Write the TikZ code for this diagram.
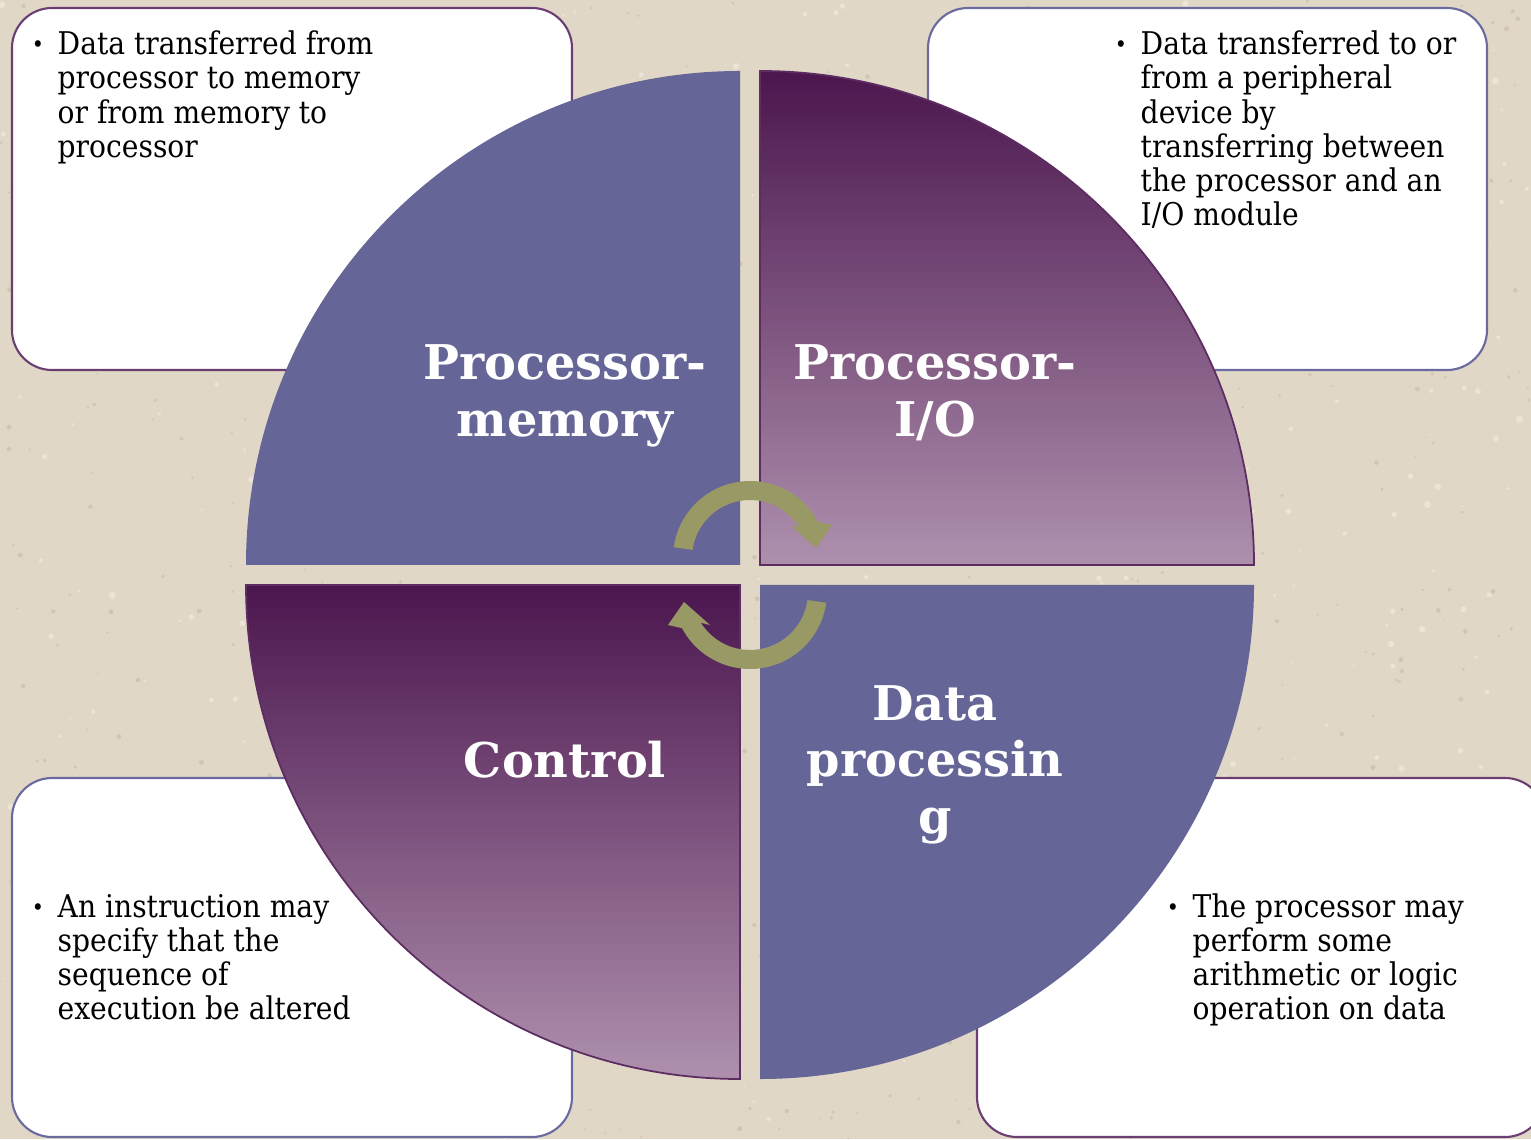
\documentclass[tikz,border=0pt]{standalone}
\usepackage{fontspec}
\setmainfont{DejaVu Serif Condensed}
\newfontfamily\headfont{DejaVu Serif}
\usetikzlibrary{positioning}

\definecolor{paper}{RGB}{225,215,198}
\definecolor{paperdark}{RGB}{196,184,164}
\definecolor{paperlight}{RGB}{240,234,223}
\definecolor{slate}{RGB}{101,101,151}
\definecolor{plumdark}{RGB}{75,22,78}
\definecolor{plumlight}{RGB}{174,144,174}
\definecolor{plumline}{RGB}{92,44,98}
\definecolor{olive}{RGB}{153,153,102}
\definecolor{boxplum}{RGB}{106,62,114}
\definecolor{boxslate}{RGB}{106,106,160}

\tikzset{
  infobox/.style={draw=#1, line width=0.6pt, fill=white, rounded corners=0.4cm},
  flatquarter/.style={fill=slate},
  shadedquarter/.style={top color=plumdark, bottom color=plumlight, draw=plumline, line width=0.5pt},
  heading/.style={text=white, font=\headfont\bfseries\fontsize{13.6}{16.2}\selectfont, inner sep=0pt, anchor=base},
  bodytext/.style={font=\fontsize{8.9}{9.67}\selectfont, inner sep=0pt, anchor=base west},
  bulletmark/.style={font=\fontsize{6.5}{9.67}\selectfont, inner sep=0pt, anchor=base},
  cyclearrow/.style={fill=olive}
}

\begin{document}
\begin{tikzpicture}[x=0.01cm, y=0.01cm]
\useasboundingbox (0,0) rectangle (1531,1139);
\fill[paper] (0,0) rectangle (1531,1139);
% speckled paper
\pgfmathsetseed{11}
\foreach \i in {1,...,700}{
  \pgfmathsetmacro{\sx}{rnd*1531}
  \pgfmathsetmacro{\sy}{rnd*1139}
  \fill[paperdark, opacity=0.55] (\sx,\sy) circle[radius=0.8+rnd*1.8];
}
\foreach \i in {1,...,500}{
  \pgfmathsetmacro{\sx}{rnd*1531}
  \pgfmathsetmacro{\sy}{rnd*1139}
  \fill[paperlight, opacity=0.7] (\sx,\sy) circle[radius=1+rnd*2.5];
}

% text boxes behind the circle
\draw[infobox=boxplum] (12,769) rectangle (572,1131);
\draw[infobox=boxslate] (928,769) rectangle (1487,1131);
\draw[infobox=boxslate] (12,2) rectangle (572,361);
\draw[infobox=boxplum] (977,2) rectangle (1545,361);

% four quarters
\fill[flatquarter] (740,574) -- (246,574) arc[start angle=180, end angle=90, radius=494] -- cycle;
\draw[shadedquarter] (760,574) -- (760,1068) arc[start angle=90, end angle=0, radius=494] -- cycle;
\draw[shadedquarter] (740,554) -- (740,60) arc[start angle=270, end angle=180, radius=494] -- cycle;
\fill[flatquarter] (760,554) -- (1254,554) arc[start angle=0, end angle=-90, radius=494] -- cycle;

% cycle arrows
\fill[cyclearrow] ([shift={(750,581)}]172:77) arc[start angle=172, end angle=28, radius=77]
  -- (832,614) -- (816,591) -- (790,614)
  -- ([shift={(750,581)}]32:58) arc[start angle=32, end angle=172, radius=58] -- cycle;
\fill[cyclearrow, rotate around={180:(750,564)}] ([shift={(750,581)}]172:77) arc[start angle=172, end angle=28, radius=77]
  -- (832,614) -- (816,591) -- (790,614)
  -- ([shift={(750,581)}]32:58) arc[start angle=32, end angle=172, radius=58] -- cycle;

% headings
\node[heading] (pm) at (565,759) {\begin{tabular}[t]{@{}c@{}}Processor-\\memory\end{tabular}};
\node[heading] (pio) at (935,759) {\begin{tabular}[t]{@{}c@{}}Processor-\\I/O\end{tabular}};
\node[heading] (ctl) at (565,362) {\begin{tabular}[t]{@{}c@{}}Control\end{tabular}};
\node[heading] (dp) at (935,419) {\begin{tabular}[t]{@{}c@{}}Data\\processin\\g\end{tabular}};

% box texts
\node[bulletmark] (pmdot) at (38,1086) {\textbullet};
\node[bodytext] (pmtext) at (57,1084) {\begin{tabular}[t]{@{}l@{}}Data transferred from\\processor to memory\\or from memory to\\processor\end{tabular}};
\node[bulletmark] (piodot) at (1121,1086) {\textbullet};
\node[bodytext] (piotext) at (1140,1084) {\begin{tabular}[t]{@{}l@{}}Data transferred to or\\from a peripheral\\device by\\transferring between\\the processor and an\\I/O module\end{tabular}};
\node[bulletmark] (ctldot) at (38,224) {\textbullet};
\node[bodytext] (ctltext) at (57,222) {\begin{tabular}[t]{@{}l@{}}An instruction may\\specify that the\\sequence of\\execution be altered\end{tabular}};
\node[bulletmark] (dpdot) at (1173,224) {\textbullet};
\node[bodytext] (dptext) at (1192,222) {\begin{tabular}[t]{@{}l@{}}The processor may\\perform some\\arithmetic or logic\\operation on data\end{tabular}};
\end{tikzpicture}
\end{document}
